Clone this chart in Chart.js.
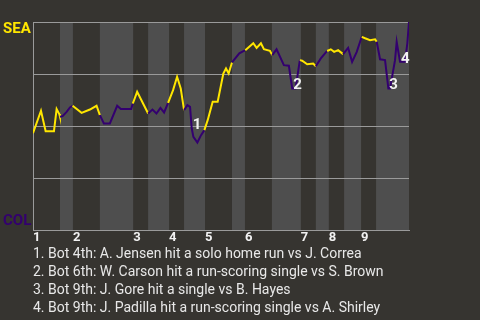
<!DOCTYPE html>
<html>
<head>
<meta charset="utf-8">
<script src="https://cdn.jsdelivr.net/npm/chart.js@4"></script>
<style>
  html, body { margin: 0; padding: 0; background: #363430; }
  #wrap { position: relative; width: 480px; height: 320px; }
  #notes {
    position: absolute; left: 33px; top: 244px;
    font-family: Roboto, sans-serif; font-size: 14px; line-height: 18px;
    color: #e8e8e8; white-space: nowrap;
  }
</style>
</head>
<body>
<div id="wrap">
  <canvas id="wpChart" width="480" height="320"></canvas>
  <div id="notes"></div>
</div>
<script>
// play number (game progress) and Mariners win probability (%)
const playX = [0, 2.4, 3.8, 6.3, 7.1, 7.9, 8.1, 8.9, 10.1, 11.1, 11.9, 14.6, 17.1, 19.1, 20.1,
  21.3, 23.1, 25.3, 26.4, 29.5, 30.0, 31.3, 34.6, 35.9, 37.1, 38.3, 39.4, 40.6, 42.1, 43.3,
  44.4, 45.4, 46.4, 47.2, 47.7, 48.2, 49.4, 50.5, 51.5, 52.5, 54.0, 55.5, 57.2, 58.0, 58.8,
  59.8, 62.0, 63.8, 66.2, 67.2, 68.5, 69.4, 71.2, 71.9, 73.2, 75.4, 76.9, 77.9, 78.9, 80.2,
  80.9, 82.4, 84.2, 85.0, 86.5, 88.4, 89.5, 90.5, 91.7, 93.2, 94.7, 95.9, 97.3, 98.8, 99.8,
  101.3, 102.8, 103.3, 104.3, 105.8, 106.8, 107.3, 108.8, 109.3, 110.3, 111.8, 112.5, 113];
const seaWinPct = [46.6, 57.4, 47.6, 47.6, 58.2, 55.8, 54.5, 54.8, 56.9, 59.0, 59.8, 56.4, 58.0, 59.8, 55.3,
  51.3, 51.3, 59.8, 58.2, 58.2, 60.9, 66.5, 56.1, 58.0, 56.1, 58.8, 56.6, 61.2, 67.3, 73.7,
  68.1, 57.7, 60.1, 59.3, 49.0, 44.9, 42.2, 45.7, 48.1, 52.9, 61.7, 61.7, 75.3, 77.7, 75.3,
  80.6, 85.0, 86.5, 89.8, 87.6, 89.8, 87.0, 86.2, 84.1, 86.9, 79.3, 79.0, 68.1, 68.1, 81.7,
  81.4, 79.7, 80.1, 78.8, 82.5, 86.1, 86.9, 85.7, 86.5, 84.6, 87.6, 80.9, 85.7, 92.9, 92.2,
  91.3, 91.7, 90.5, 82.1, 81.7, 68.1, 68.1, 81.7, 90.5, 80.9, 80.9, 89.8, 100];

// start of each half inning (top 1, bot 1, top 2, ...), and the end of the game
const halfStarts = [0, 8.1, 12, 20.1, 30.1, 34.6, 40.9, 45.4, 51.7, 59.8, 63.7, 71.8,
  80.5, 85, 88.9, 93.5, 98.6, 103.1];
const gameEnd = 113;
const innings = ["1", "2", "3", "4", "5", "6", "7", "8", "9"];

// key plays
const eventPlays = [47.7, 77.9, 106.8, 110.3];
const notes = [
  "1. Bot 4th: A. Jensen hit a solo home run vs J. Correa",
  "2. Bot 6th: W. Carson hit a run-scoring single vs S. Brown",
  "3. Bot 9th: J. Gore hit a single vs B. Hayes",
  "4. Bot 9th: J. Padilla hit a run-scoring single vs A. Shirley"
];

const SEA = "#ffe600";
const COL = "#33006f";
const BAND = "#4e4e4e";
const GRID = "#9a9a9a";
const FONT = "Roboto, sans-serif";

document.getElementById("notes").innerHTML = notes.map(n => "<div>" + n + "</div>").join("");

const points = playX.map((x, i) => ({ x: x, y: seaWinPct[i] }));
const inningStarts = halfStarts.filter((s, i) => i % 2 === 0);

function isBottomHalf(x) {
  let h = 0;
  for (let i = 0; i < halfStarts.length; i++) if (halfStarts[i] <= x) h = i;
  return h % 2 === 1;
}

const bandsPlugin = {
  id: "bands",
  beforeDraw(chart) {
    const ctx = chart.ctx, area = chart.chartArea, xs = chart.scales.x;
    ctx.save();
    ctx.fillStyle = BAND;
    for (let i = 1; i < halfStarts.length; i += 2) {
      const x0 = xs.getPixelForValue(halfStarts[i]);
      const x1 = xs.getPixelForValue(i + 1 < halfStarts.length ? halfStarts[i + 1] : gameEnd);
      ctx.fillRect(x0, area.top, x1 - x0, area.bottom - area.top);
    }
    ctx.restore();
  }
};

const labelsPlugin = {
  id: "labels",
  afterDatasetsDraw(chart) {
    const ctx = chart.ctx, xs = chart.scales.x, ys = chart.scales.y, area = chart.chartArea;
    ctx.save();
    ctx.font = "bold 15px " + FONT;
    ctx.textAlign = "left";
    ctx.textBaseline = "alphabetic";
    ctx.fillStyle = SEA;
    ctx.fillText("SEA", 3, area.top + 11);
    ctx.fillStyle = COL;
    ctx.fillText("COL", 3, area.bottom - 5);

    ctx.fillStyle = "#f2f2f2";
    eventPlays.forEach((p, i) => {
      const k = playX.indexOf(p);
      const px = xs.getPixelForValue(playX[k]);
      const py = ys.getPixelForValue(seaWinPct[k]);
      ctx.fillText(String(i + 1), px + 1, py + 1);
    });
    ctx.restore();
  }
};

const ctx = document.getElementById("wpChart").getContext("2d");
const wpChart = new Chart(ctx, {
  type: "line",
  data: {
    datasets: [
      {
        data: points,
        borderColor: SEA,
        borderWidth: 2,
        pointRadius: 0,
        tension: 0,
        segment: {
          borderColor: c => isBottomHalf((c.p0.parsed.x + c.p1.parsed.x) / 2) ? COL : SEA
        }
      }
    ]
  },
  options: {
    responsive: false,
    animation: false,
    layout: { padding: { left: 33, right: 71, top: 22, bottom: 74 } },
    plugins: { legend: { display: false }, tooltip: { enabled: false } },
    scales: {
      x: {
        type: "linear",
        min: 0,
        max: gameEnd,
        grid: { display: false, drawTicks: false },
        border: { display: true, color: GRID, width: 1 },
        afterBuildTicks: axis => { axis.ticks = inningStarts.map(v => ({ value: v })); },
        ticks: {
          autoSkip: false,
          maxRotation: 0,
          align: "start",
          padding: 0,
          color: "#f2f2f2",
          font: { family: FONT, size: 13, weight: "bold" },
          callback: (v, i) => innings[i]
        }
      },
      y: {
        min: 0,
        max: 100,
        grid: { color: GRID, drawTicks: false },
        border: { display: true, color: GRID },
        afterBuildTicks: axis => { axis.ticks = [0, 25, 50, 75, 100].map(v => ({ value: v })); },
        ticks: { display: false }
      }
    }
  },
  plugins: [bandsPlugin, labelsPlugin]
});
</script>
</body>
</html>
